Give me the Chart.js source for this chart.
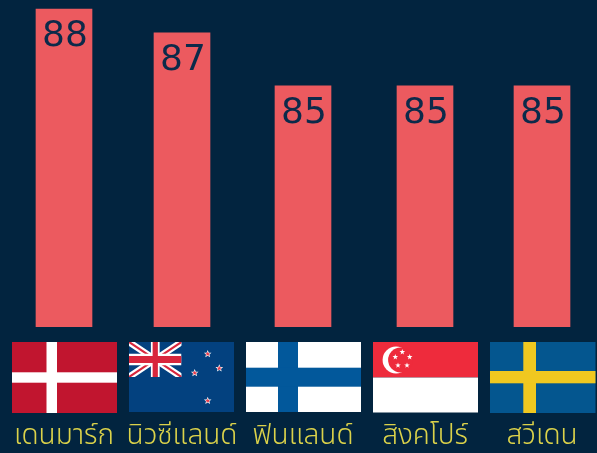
<!DOCTYPE html>
<html lang="th">
<head>
    <meta charset="UTF-8">
    <title>Top 5 countries</title>
    <script src="https://cdn.jsdelivr.net/npm/chart.js"></script>
    <style>
        body {
            margin: 0;
            background: #02243f;
            overflow: hidden;
        }
        .wrap {
            position: relative;
            width: 597px;
            height: 453px;
        }
        canvas {
            position: absolute;
            left: 0;
            top: 0;
        }
        .flags {
            position: absolute;
            left: 12px;
            top: 342px;
            display: flex;
            gap: 12px;
            align-items: flex-start;
        }
        .flag {
            display: block;
        }
        /* one pixel wider than it paints, so its bar sits where the picture has it */
        .flag.nudge {
            margin-right: -1px;
        }
    </style>
</head>
<body>
    <div class="wrap">
        <canvas id="scoreChart" width="597" height="453"></canvas>
        <div class="flags">
            <!-- Denmark -->
            <svg class="flag" width="105" height="71" viewBox="0 0 105 71">
                <rect width="105" height="71" fill="#c1152f"/>
                <rect x="34.5" width="10.5" height="71" fill="#fff"/>
                <rect y="30.3" width="105" height="10.4" fill="#fff"/>
            </svg>
            <!-- New Zealand -->
            <svg class="flag nudge" width="106" height="70" viewBox="0 0 106 70">
                <defs>
                    <g id="nzStar">
                        <polygon points="0,-4 1.1,-1.3 3.8,-1.2 1.7,.6 2.4,3.2 0,1.7 -2.4,3.2 -1.7,.6 -3.8,-1.2 -1.1,-1.3" fill="#fff"/>
                        <polygon points="0,-2.5 .7,-.8 2.4,-.8 1.1,.4 1.5,2 0,1.1 -1.5,2 -1.1,.4 -2.4,-.8 -.7,-.8" fill="#e8394a"/>
                    </g>
                </defs>
                <rect width="105" height="70" fill="#03417f"/>
                <svg width="52.5" height="35" viewBox="0 0 60 30" preserveAspectRatio="none">
                    <path d="M0,0 L60,30 M60,0 L0,30" stroke="#fff" stroke-width="6"/>
                    <path d="M0,0 L60,30 M60,0 L0,30" stroke="#d8263c" stroke-width="2"/>
                    <path d="M30,0 V30 M0,15 H60" stroke="#fff" stroke-width="10"/>
                    <path d="M30,0 V30 M0,15 H60" stroke="#d8263c" stroke-width="6"/>
                </svg>
                <use href="#nzStar" x="78.7" y="12"/>
                <use href="#nzStar" x="90.3" y="26.3"/>
                <use href="#nzStar" x="65.7" y="31"/>
                <use href="#nzStar" x="78.7" y="58.7"/>
            </svg>
            <!-- Finland -->
            <svg class="flag" width="115" height="70" viewBox="0 0 115 70">
                <rect width="115" height="70" fill="#fff"/>
                <rect x="32" width="20" height="70" fill="#02589b"/>
                <rect y="25.7" width="115" height="19" fill="#02589b"/>
            </svg>
            <!-- Singapore -->
            <svg class="flag" width="105" height="71" viewBox="0 0 105 71">
                <defs>
                    <polygon id="sgStar" points="0,-2.9 .7,-.9 2.8,-.9 1.1,.4 1.7,2.4 0,1.2 -1.7,2.4 -1.1,.4 -2.8,-.9 -.7,-.9" fill="#fff"/>
                </defs>
                <rect width="105" height="35.5" fill="#ee2b3c"/>
                <rect y="35.5" width="105" height="35" fill="#fff"/>
                <circle cx="23" cy="18" r="13.4" fill="#fff"/>
                <circle cx="27.5" cy="18" r="12.4" fill="#ee2b3c"/>
                <use href="#sgStar" x="29.3" y="10"/>
                <use href="#sgStar" x="36.7" y="15"/>
                <use href="#sgStar" x="34" y="23.3"/>
                <use href="#sgStar" x="25" y="23.3"/>
                <use href="#sgStar" x="22.3" y="15"/>
            </svg>
            <!-- Sweden -->
            <svg class="flag" width="105.5" height="71" viewBox="0 0 105.5 71">
                <rect width="105.5" height="71" fill="#04568f"/>
                <rect x="33.3" width="12.7" height="71" fill="#f0c820"/>
                <rect y="29" width="105.5" height="12.3" fill="#f0c820"/>
            </svg>
        </div>
    </div>
    <script>
        const countries = ['เดนมาร์ก', 'นิวซีแลนด์', 'ฟินแลนด์', 'สิงคโปร์', 'สวีเดน'];
        // bar heights, labels show them rounded
        const scores = [88, 87.07, 85, 85, 85];

        // columns follow the flags, which are not all the same width
        class FlagColumnScale extends Chart.CategoryScale {
            getPixelForValue(value) {
                const flags = document.querySelectorAll('.flag');
                const box = flags[value].getBoundingClientRect();
                return Math.floor(box.left + box.width / 2);
            }
        }
        FlagColumnScale.id = 'flagColumn';
        FlagColumnScale.defaults = Chart.CategoryScale.defaults;
        Chart.register(FlagColumnScale);

        const barLabels = {
            id: 'barLabels',
            afterDatasetsDraw(chart) {
                const ctx = chart.ctx;
                ctx.save();
                ctx.font = '36px "DejaVu Sans"';
                ctx.fillStyle = '#0c2a4a';
                ctx.textAlign = 'center';
                chart.getDatasetMeta(0).data.forEach((bar, i) => {
                    ctx.fillText(Math.round(scores[i]), bar.x + 1, bar.y + 37);
                });
                ctx.restore();
            }
        };

        new Chart(document.getElementById('scoreChart'), {
            type: 'bar',
            data: {
                labels: countries,
                datasets: [{
                    data: scores,
                    backgroundColor: '#ec5a5f',
                    barThickness: 56,
                    // sides stay open: the flag columns reach past the chart area
                    clip: { left: false, right: false, top: false, bottom: 0 }
                }]
            },
            options: {
                responsive: false,
                animation: false,
                layout: { padding: 0 },
                plugins: {
                    legend: { display: false },
                    tooltip: { enabled: false }
                },
                scales: {
                    x: {
                        type: 'flagColumn',
                        grid: { display: false, drawTicks: false },
                        border: { display: false },
                        afterFit(scale) { scale.height = 126; },
                        ticks: {
                            color: '#dbd24a',
                            padding: 95,
                            autoSkip: false,
                            maxRotation: 0,
                            font: { family: '"Noto Sans Thai", "Noto Sans", sans-serif', size: 28, weight: 300 }
                        }
                    },
                    y: {
                        display: false,
                        min: 75.6,
                        max: 88.35
                    }
                }
            },
            plugins: [barLabels]
        });
    </script>
</body>
</html>
